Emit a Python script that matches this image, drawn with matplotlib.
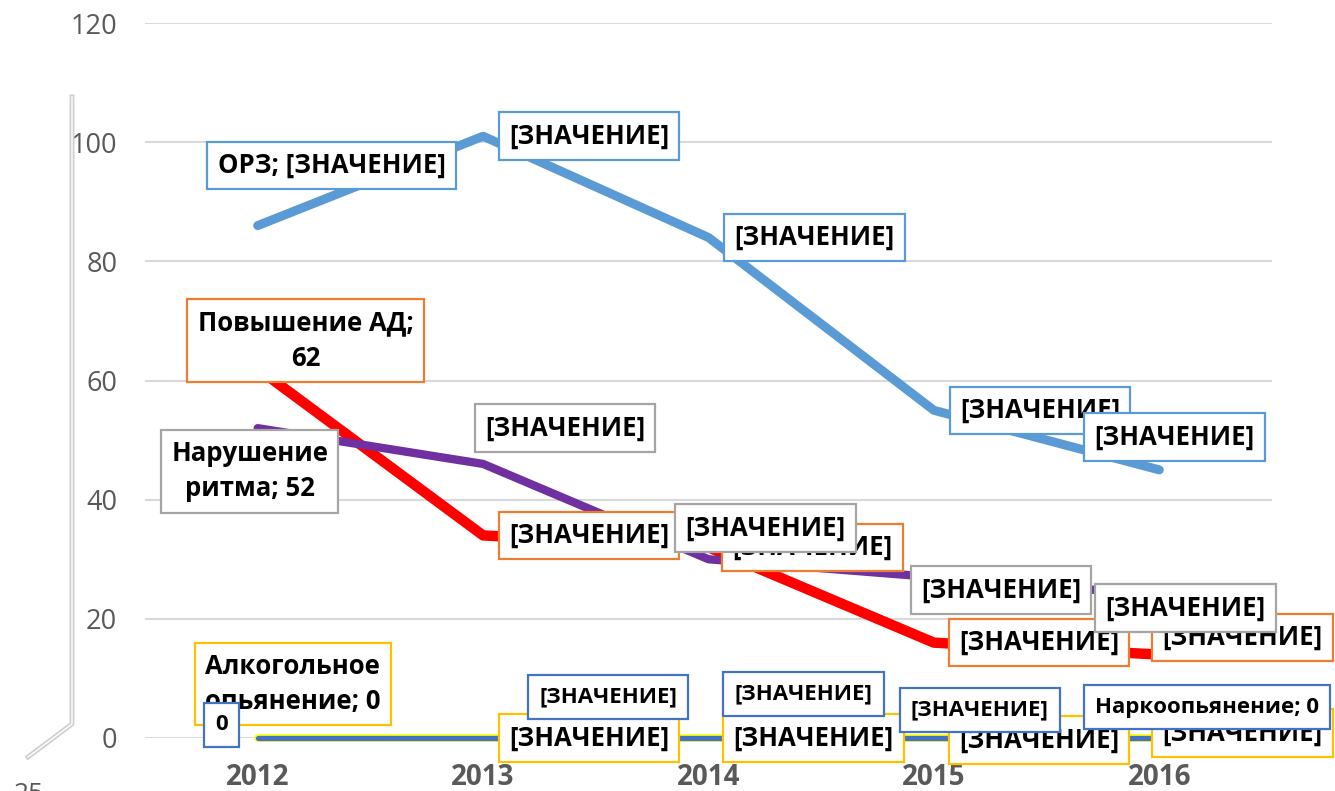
import matplotlib
matplotlib.use("Agg")
import matplotlib.pyplot as plt
from matplotlib.lines import Line2D

plt.rcParams['font.family'] = ['Open Sans', 'DejaVu Sans']

years = ["2012", "2013", "2014", "2015", "2016"]
orz = [86, 101, 84, 55, 45]
ad = [62, 34, 32, 16, 14]
ritm = [52, 46, 30, 27, 24]
alko = [0, 0, 0, 0, 0]
narko = [0, 0, 0, 0, 0]

series_names = ["ОРЗ", "Повышение АД", "Нарушение ритма", "Алкогольное опьянение", "Наркоопьянение"]
series_vals = [orz, ad, ritm, alko, narko]
line_colors = ["#5B9BD5", "#FF0000", "#7030A0", "#FFFF00", "#4472C4"]
box_colors = ["#5B9BD5", "#ED7D31", "#A5A5A5", "#FFC000", "#4472C4"]
line_widths = [6.5, 7.5, 6.0, 5.5, 3.8]

placeholder = "[ЗНАЧЕНИЕ]"
labels = [
    ["ОРЗ; [ЗНАЧЕНИЕ]", placeholder, placeholder, placeholder, placeholder],
    ["Повышение АД;\n62", placeholder, placeholder, placeholder, placeholder],
    ["Нарушение\nритма; 52", placeholder, placeholder, placeholder, placeholder],
    ["Алкогольное\nопьянение; 0", placeholder, placeholder, placeholder, placeholder],
    ["0", placeholder, placeholder, placeholder, "Наркоопьянение; 0"],
]
offsets = [
    [(74, 60), (106, 0), (106, 0), (106, 0), (15, 33)],
    [(48, 28), (106, 0), (104, 0), (105, 0), (83, 17)],
    [(-8, -43), (82, 36), (57, 31), (67, -13), (26, -13)],
    [(35, 54), (106, 0), (105, 0), (105, -2), (83, 5)],
    [(-36, 13), (125, 41), (95, 44), (46, 28), (48, 31)],
]
label_sizes = [18.5, 18.5, 18.5, 18.5, 16]
label_pads = [0.4, 0.4, 0.4, 0.4, 0.5]

fig = plt.figure(figsize=(13.35, 7.91), dpi=100)
ax = fig.add_axes([145/1335, 1-738/791, (1272-145)/1335, (738-23)/791])

x = list(range(len(years)))
for k, vals in enumerate(series_vals):
    ax.plot(x, vals, color=line_colors[k], lw=line_widths[k], solid_capstyle='round',
            solid_joinstyle='round', zorder=2 + k*0.1, clip_on=False)

for k, vals in enumerate(series_vals):
    for i, v in enumerate(vals):
        dx, dy = offsets[k][i]
        ax.annotate(labels[k][i], xy=(i, v), xytext=(dx, dy), textcoords='offset pixels',
                    ha='center', va='center', fontsize=label_sizes[k], fontweight='bold',
                    color='black', linespacing=1.4, zorder=5 + k,
                    bbox=dict(boxstyle='square,pad=%s' % label_pads[k], fc='white',
                              ec=box_colors[k], lw=1.6),
                    annotation_clip=False)

ax.set_xlim(-0.5, 4.5)
ax.set_ylim(0, 120)
ax.set_yticks(range(0, 121, 20))
ax.set_xticks(x)
ax.set_xticklabels(years, fontweight='bold')
ax.grid(axis='y', color='#D9D9D9', lw=1.5, zorder=0)
ax.set_axisbelow(True)
for s in ax.spines.values():
    s.set_visible(False)
ax.tick_params(axis='y', length=0, pad=20, labelsize=19.5, labelcolor='#595959')
ax.tick_params(axis='x', length=0, pad=18, labelsize=20, labelcolor='#595959')

xs = [72/1335, 72/1335, 28/1335]
ys = [1-97/791, 1-724/791, 1-757/791]
fig.add_artist(Line2D(xs, ys, color='#CFCFCF', lw=3.5, transform=fig.transFigure))
fig.add_artist(Line2D(xs, ys, color='white', lw=1.0, transform=fig.transFigure))
fig.text(14/1335, 1-782/791, "25", va='top', ha='left', fontsize=19, color='#595959')

fig.savefig("out.png", dpi=100)
